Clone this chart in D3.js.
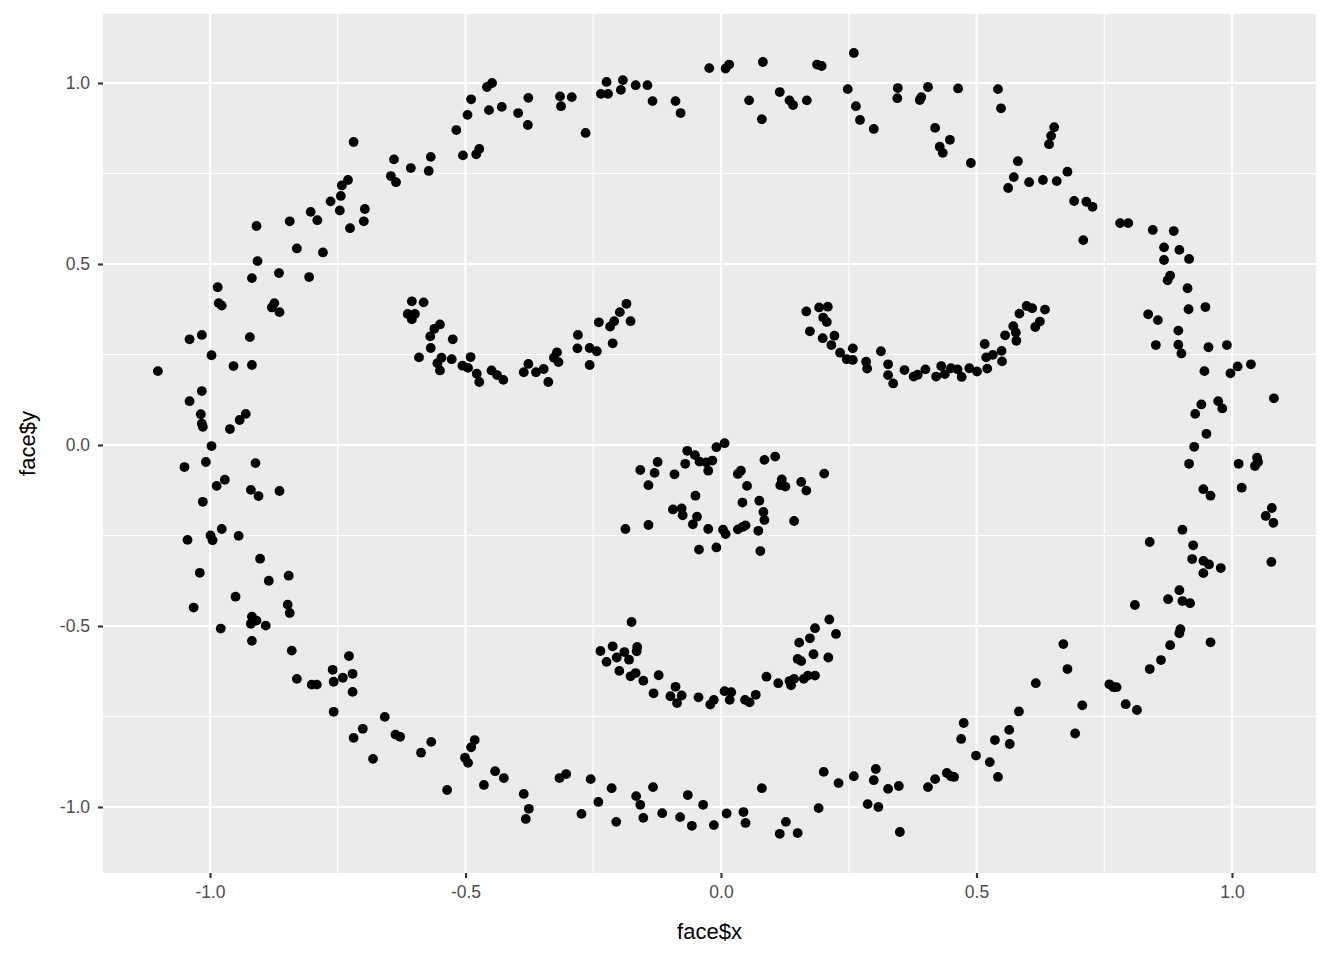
<!DOCTYPE html>
<html>
<head>
<meta charset="utf-8">
<script src="https://cdn.jsdelivr.net/npm/d3@7"></script>
<style>
  body { margin: 0; background: #ffffff; }
  svg { display: block; font-family: "Liberation Sans", Arial, sans-serif; }
</style>
</head>
<body>
<svg id="chart" width="1344" height="960"></svg>
<script>
// face$x / face$y, one list per part of the face
const outline = [
  [-0.719,0.837],[-0.640,0.789],[-0.568,0.796],[-0.607,0.765],[-0.572,0.757],[-0.646,0.743],[-0.636,0.726],[-0.730,0.732],[-0.742,0.717],[-0.744,0.688],[-0.764,0.673],[-0.746,0.648],[-0.697,0.652],[-0.699,0.618],[-0.726,0.599],[-0.803,0.644],[-0.790,0.621],[-0.844,0.618],[-0.909,0.605],[-0.830,0.543],[-0.779,0.532],[-0.907,0.508],[-0.865,0.475],[-0.918,0.461],[-0.806,0.464],[-0.985,0.436],
  [-0.518,0.870],[-0.505,0.800],[-0.479,0.803],[-0.473,0.818],[-0.496,0.912],[-0.489,0.955],[-0.458,0.989],[-0.448,1.000],[-0.454,0.925],[-0.429,0.934],[-0.397,0.917],[-0.377,0.959],[-0.378,0.884],[-0.315,0.963],[-0.313,0.936],[-0.292,0.961],[-0.265,0.862],[-0.235,0.970],[-0.224,1.003],[-0.221,0.970],[-0.196,0.981],[-0.192,1.008],[-0.167,0.994],[-0.144,0.994],[-0.134,0.950],[-0.089,0.950],[-0.079,0.917],[-0.023,1.041],
  [0.009,1.040],[0.016,1.051],[0.082,1.058],[0.188,1.051],[0.197,1.047],[0.260,1.083],[0.248,0.983],[0.055,0.952],[0.080,0.900],[0.115,0.975],[0.134,0.952],[0.141,0.939],[0.168,0.952],[0.264,0.936],[0.272,0.898],[0.299,0.873],[0.346,0.986],[0.345,0.958],[0.389,0.953],[0.392,0.961],[0.405,0.989],[0.464,0.985],[0.542,0.983],[0.548,0.930],[0.419,0.876],[0.448,0.843],[0.428,0.824],[0.434,0.807],[0.489,0.779],[0.581,0.784],[0.573,0.740],[0.562,0.710],
  [0.652,0.878],[0.646,0.854],[0.642,0.831],
  [0.603,0.726],[0.630,0.732],[0.657,0.729],[0.678,0.755],[0.691,0.674],[0.715,0.672],[0.727,0.658],[0.709,0.566],[0.781,0.613],[0.797,0.613],[0.845,0.594],[0.886,0.591],[0.867,0.546],[0.897,0.539],[0.867,0.511],[0.916,0.514],[0.879,0.468],[0.874,0.455],[0.913,0.433],[0.915,0.375],[0.948,0.381],[0.836,0.361],[0.855,0.345],[0.895,0.316],[0.851,0.276],[0.895,0.277],[0.901,0.253],[0.954,0.270],[0.990,0.276],[0.946,0.204],[0.997,0.198],[1.011,0.217],[1.037,0.223],[1.082,0.129],[0.940,0.112],[0.928,0.086],[0.973,0.121],[0.981,0.101],[0.950,0.031],[0.926,-0.005],
  [0.916,-0.052],[1.013,-0.052],[1.049,-0.035],[1.051,-0.047],[1.045,-0.058],[0.944,-0.122],[0.958,-0.140],[1.019,-0.118],[1.078,-0.174],[1.066,-0.196],[1.081,-0.215],[0.903,-0.234],[0.839,-0.268],[0.924,-0.277],[0.922,-0.315],[0.944,-0.320],[0.955,-0.330],[0.978,-0.340],[0.944,-0.354],[1.077,-0.323],[0.897,-0.401],[0.875,-0.426],[0.903,-0.431],[0.918,-0.437],[0.810,-0.442],[0.899,-0.509],[0.897,-0.520],[0.958,-0.545],[0.879,-0.553],[0.861,-0.594],[0.839,-0.619],[0.670,-0.550],[0.678,-0.619],[0.616,-0.658],[0.583,-0.736],[0.707,-0.719],[0.760,-0.661],[0.768,-0.669],[0.774,-0.669],[0.792,-0.716],[0.814,-0.732],[0.564,-0.787],[0.693,-0.797],
  [0.475,-0.768],[0.470,-0.812],[0.499,-0.858],[0.536,-0.815],[0.565,-0.826],[0.526,-0.876],[0.542,-0.917],[0.442,-0.906],[0.450,-0.915],[0.456,-0.917],[0.419,-0.923],[0.405,-0.945],[0.348,-0.942],[0.327,-0.950],[0.303,-0.895],[0.299,-0.926],[0.287,-0.992],[0.308,-1.000],[0.350,-1.069],[0.260,-0.915],[0.230,-0.934],[0.201,-0.903],[0.191,-1.003],[0.080,-0.948],[0.011,-1.018],[0.044,-1.014],[0.048,-1.044],[0.127,-1.041],[0.115,-1.074],[0.150,-1.072],
  [-0.567,-0.820],[-0.536,-0.953],[-0.482,-0.815],[-0.489,-0.835],[-0.501,-0.864],[-0.495,-0.878],[-0.464,-0.939],[-0.442,-0.901],[-0.425,-0.920],[-0.386,-0.964],[-0.376,-1.005],[-0.382,-1.033],[-0.316,-0.920],[-0.303,-0.909],[-0.255,-0.923],[-0.273,-1.019],[-0.240,-0.986],[-0.214,-0.948],[-0.205,-1.041],[-0.166,-0.970],[-0.158,-0.994],[-0.152,-1.030],[-0.133,-0.945],[-0.115,-1.017],[-0.080,-1.028],[-0.065,-0.967],[-0.057,-1.052],[-0.035,-0.994],[-0.014,-1.050],
  [-0.902,-0.314],[-1.020,-0.353],[-0.885,-0.375],[-0.846,-0.361],[-0.950,-0.419],[-1.032,-0.449],[-0.848,-0.441],[-0.844,-0.464],[-0.918,-0.474],[-0.909,-0.485],[-0.920,-0.494],[-0.891,-0.499],[-0.979,-0.507],[-0.918,-0.541],[-0.840,-0.568],[-0.728,-0.583],[-0.760,-0.621],[-0.721,-0.632],[-0.740,-0.643],[-0.758,-0.654],[-0.721,-0.682],[-0.830,-0.646],[-0.801,-0.662],[-0.791,-0.662],[-0.758,-0.737],[-0.658,-0.751],[-0.701,-0.784],[-0.719,-0.809],[-0.637,-0.800],[-0.628,-0.806],[-0.681,-0.867],[-0.587,-0.850],
  [-0.983,0.392],[-0.977,0.385],[-0.874,0.392],[-0.879,0.380],[-0.864,0.367],[-1.040,0.292],[-1.016,0.304],[-0.922,0.298],[-0.997,0.248],[-1.102,0.204],[-0.954,0.218],[-0.918,0.221],[-1.016,0.149],[-1.040,0.121],[-1.018,0.085],[-1.016,0.059],[-1.014,0.050],[-0.930,0.086],[-0.942,0.069],[-0.961,0.044],[-0.997,-0.003],[-1.050,-0.061],[-1.008,-0.047],[-0.911,-0.050],[-0.971,-0.096],[-0.987,-0.113],[-0.920,-0.124],[-0.905,-0.141],[-0.864,-0.127],[-1.014,-0.157],[-0.977,-0.232],[-0.999,-0.250],[-0.995,-0.263],[-0.944,-0.251],[-1.044,-0.262]
]

const leftEye = [
  [-0.605,0.397],[-0.582,0.394],[-0.613,0.362],[-0.599,0.362],[-0.605,0.347],[-0.550,0.333],[-0.561,0.321],[-0.569,0.300],[-0.525,0.292],[-0.568,0.268],[-0.591,0.242],[-0.547,0.241],[-0.555,0.226],[-0.550,0.206],[-0.527,0.237],[-0.506,0.219],[-0.490,0.243],[-0.495,0.213],[-0.478,0.197],[-0.473,0.174],[-0.449,0.206],[-0.438,0.193],[-0.426,0.180],[-0.377,0.224],[-0.386,0.201],[-0.362,0.201],[-0.347,0.210],[-0.338,0.174],[-0.321,0.256],[-0.327,0.241],[-0.318,0.229],[-0.280,0.304],[-0.281,0.267],[-0.257,0.268],[-0.243,0.259],[-0.257,0.221],[-0.239,0.339],[-0.217,0.327],[-0.209,0.342],[-0.212,0.281],[-0.198,0.367],[-0.185,0.390],[-0.177,0.342]
]

const rightEye = [
  [0.167,0.369],[0.192,0.380],[0.209,0.382],[0.200,0.352],[0.207,0.340],[0.174,0.314],[0.199,0.295],[0.222,0.302],[0.216,0.276],[0.233,0.255],[0.246,0.237],[0.258,0.235],[0.258,0.267],[0.284,0.230],[0.286,0.211],[0.313,0.259],[0.327,0.223],[0.327,0.193],[0.337,0.170],[0.359,0.207],[0.377,0.189],[0.385,0.194],[0.400,0.209],[0.421,0.189],[0.431,0.218],[0.438,0.196],[0.450,0.212],[0.463,0.209],[0.471,0.188],[0.486,0.212],[0.501,0.203],[0.521,0.211],[0.516,0.279],[0.519,0.242],[0.532,0.249],[0.549,0.260],[0.550,0.231],[0.556,0.303],[0.572,0.328],[0.577,0.311],[0.578,0.288],[0.584,0.363],[0.598,0.384],[0.609,0.378],[0.624,0.341],[0.615,0.326],[0.634,0.374]
]

const nose = [
  [-0.066,-0.016],[-0.051,-0.028],[-0.042,-0.046],[-0.029,-0.048],[-0.017,-0.043],[-0.009,-0.006],[0.007,0.005],[-0.025,-0.071],[-0.158,-0.069],[-0.124,-0.047],[-0.130,-0.077],[-0.142,-0.111],[-0.091,-0.081],[-0.070,-0.052],[-0.050,-0.140],[-0.094,-0.178],[-0.077,-0.175],[-0.075,-0.194],[-0.047,-0.198],[-0.055,-0.219],[-0.025,-0.232],[0.004,-0.234],[0.009,-0.246],[0.033,-0.233],[0.043,-0.226],[0.048,-0.222],[0.073,-0.237],[-0.043,-0.289],[-0.009,-0.283],[0.077,-0.293],[-0.187,-0.232],[-0.142,-0.221],[0.033,-0.080],[0.039,-0.071],[0.051,-0.113],[0.085,-0.041],[0.106,-0.032],[0.119,-0.095],[0.116,-0.111],[0.126,-0.115],[0.157,-0.102],[0.167,-0.126],[0.202,-0.079],[0.042,-0.159],[0.075,-0.154],[0.083,-0.185],[0.085,-0.207],[0.143,-0.210]
]

const mouth = [
  [-0.175,-0.489],[-0.236,-0.569],[-0.212,-0.556],[-0.224,-0.599],[-0.204,-0.587],[-0.189,-0.572],[-0.180,-0.593],[-0.164,-0.558],[-0.165,-0.570],[-0.199,-0.624],[-0.177,-0.639],[-0.167,-0.630],[-0.152,-0.651],[-0.122,-0.636],[-0.132,-0.686],[-0.089,-0.668],[-0.099,-0.694],[-0.077,-0.692],[-0.086,-0.713],[-0.044,-0.697],[-0.021,-0.717],[-0.014,-0.704],[0.007,-0.680],[0.020,-0.683],[0.017,-0.704],[0.047,-0.704],[0.056,-0.711],[0.068,-0.690],[0.089,-0.640],[0.112,-0.658],[0.134,-0.652],[0.137,-0.664],[0.143,-0.646],[0.162,-0.646],[0.170,-0.637],[0.184,-0.637],[0.150,-0.591],[0.157,-0.597],[0.181,-0.578],[0.210,-0.587],[0.153,-0.546],[0.174,-0.534],[0.184,-0.506],[0.212,-0.482],[0.225,-0.522]
]

const xTicks = [-1.0, -0.5, 0.0, 0.5, 1.0]
const yTicks = [-1.0, -0.5, 0.0, 0.5, 1.0]
const xMinor = [-0.75, -0.25, 0.25, 0.75]
const yMinor = [-0.75, -0.25, 0.25, 0.75]

var svg = d3.select("#chart")
var panel = {left: 103, right: 1316, top: 14, bottom: 873}

var x = d3.scaleLinear().domain([-1.2094, 1.1644]).range([panel.left, panel.right])
var y = d3.scaleLinear().domain([-1.1823, 1.1906]).range([panel.bottom, panel.top])

svg.append("rect")
  .attr("x", panel.left).attr("y", panel.top)
  .attr("width", panel.right - panel.left).attr("height", panel.bottom - panel.top)
  .attr("fill", "#ebebeb")

// minor grid
svg.selectAll(".xminor").data(xMinor).enter().append("line")
  .attr("x1", d => x(d)).attr("x2", d => x(d))
  .attr("y1", panel.top).attr("y2", panel.bottom)
  .attr("stroke", "#ffffff").attr("stroke-width", 1.07)
svg.selectAll(".yminor").data(yMinor).enter().append("line")
  .attr("y1", d => y(d)).attr("y2", d => y(d))
  .attr("x1", panel.left).attr("x2", panel.right)
  .attr("stroke", "#ffffff").attr("stroke-width", 1.07)

// major grid
svg.selectAll(".xmajor").data(xTicks).enter().append("line")
  .attr("x1", d => x(d)).attr("x2", d => x(d))
  .attr("y1", panel.top).attr("y2", panel.bottom)
  .attr("stroke", "#ffffff").attr("stroke-width", 2.13)
svg.selectAll(".ymajor").data(yTicks).enter().append("line")
  .attr("y1", d => y(d)).attr("y2", d => y(d))
  .attr("x1", panel.left).attr("x2", panel.right)
  .attr("stroke", "#ffffff").attr("stroke-width", 2.13)

// axes, plain hyphen minus like R prints
var fmt = d => d.toFixed(1)
var xAxis = d3.axisBottom(x).tickValues(xTicks).tickFormat(fmt).tickSize(5).tickPadding(8)
var yAxis = d3.axisLeft(y).tickValues(yTicks).tickFormat(fmt).tickSize(5).tickPadding(8)

var gx = svg.append("g").attr("transform", "translate(0," + panel.bottom + ")").call(xAxis)
var gy = svg.append("g").attr("transform", "translate(" + panel.left + ",0)").call(yAxis)
;[gx, gy].forEach(function(g) {
  g.select(".domain").remove()
  g.selectAll(".tick line").attr("stroke", "#333333").attr("stroke-width", 2.13)
  g.selectAll(".tick text").attr("fill", "#4d4d4d").style("font-size", "17.5px")
    .style("font-family", "'Liberation Sans', Arial, sans-serif")
})

// points
var allPoints = outline.concat(leftEye, rightEye, nose, mouth)
svg.append("g").selectAll("circle").data(allPoints).enter().append("circle")
  .attr("cx", d => x(d[0])).attr("cy", d => y(d[1]))
  .attr("r", 4.9).attr("fill", "#000000")

// axis titles
svg.append("text").attr("x", (panel.left + panel.right) / 2).attr("y", 939)
  .attr("text-anchor", "middle").style("font-size", "22px").attr("fill", "#000000")
  .text("face$x")
svg.append("text")
  .attr("transform", "translate(35," + ((panel.top + panel.bottom) / 2) + ") rotate(-90)")
  .attr("text-anchor", "middle").style("font-size", "22px").attr("fill", "#000000")
  .text("face$y")
</script>
</body>
</html>
